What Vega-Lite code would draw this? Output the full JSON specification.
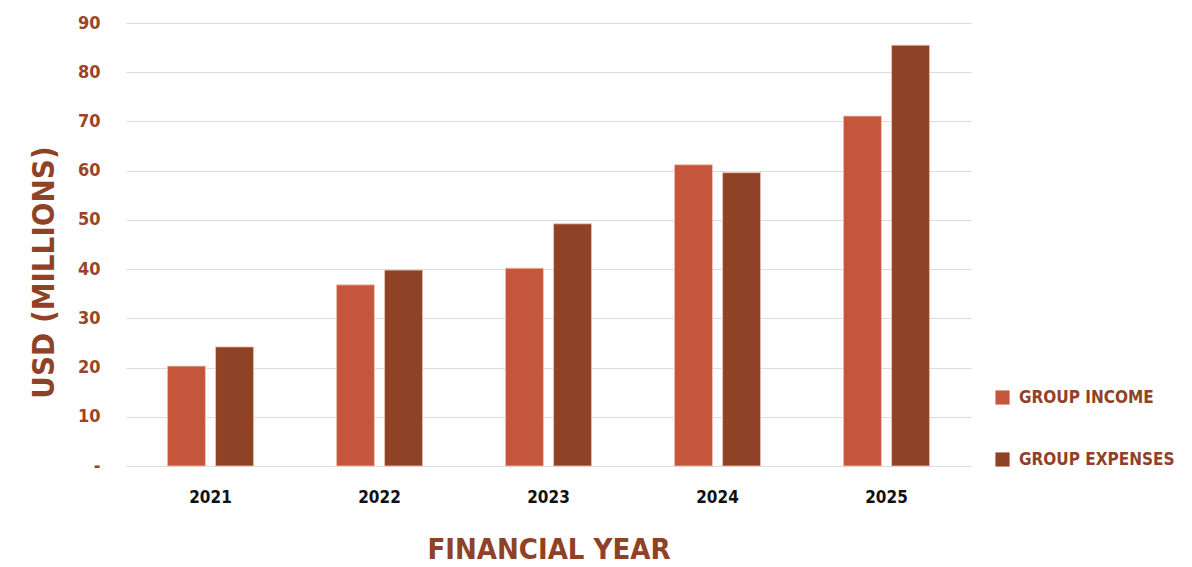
{
  "$schema": "https://vega.github.io/schema/vega-lite/v6.json",
  "width": 845,
  "height": 443,
  "autosize": "none",
  "padding": {"left": 126, "top": 23, "right": 221, "bottom": 101},
  "background": "white",
  "config": {
    "font": "DejaVu Sans Condensed, sans-serif",
    "view": {"stroke": null}
  },
  "data": {
    "values": [
      {"year": "2021", "series": "GROUP INCOME", "value": 20.3},
      {"year": "2021", "series": "GROUP EXPENSES", "value": 24.2},
      {"year": "2022", "series": "GROUP INCOME", "value": 36.8},
      {"year": "2022", "series": "GROUP EXPENSES", "value": 39.8},
      {"year": "2023", "series": "GROUP INCOME", "value": 40.2},
      {"year": "2023", "series": "GROUP EXPENSES", "value": 49.2},
      {"year": "2024", "series": "GROUP INCOME", "value": 61.2},
      {"year": "2024", "series": "GROUP EXPENSES", "value": 59.6},
      {"year": "2025", "series": "GROUP INCOME", "value": 71.1},
      {"year": "2025", "series": "GROUP EXPENSES", "value": 85.5}
    ]
  },
  "mark": {"type": "bar", "stroke": "#f0c8b8", "strokeWidth": 0.8},
  "encoding": {
    "x": {
      "field": "year",
      "type": "nominal",
      "scale": {"paddingInner": 0.49, "paddingOuter": 0.245},
      "axis": {
        "title": "FINANCIAL YEAR",
        "titleFontSize": 29,
        "titleFontWeight": "bold",
        "titleColor": "#8F4226",
        "titlePadding": 30,
        "labelAngle": 0,
        "labelFontSize": 17,
        "labelFontWeight": "bold",
        "labelColor": "#111111",
        "labelPadding": 23,
        "ticks": false,
        "domain": false
      }
    },
    "xOffset": {
      "field": "series",
      "type": "nominal",
      "sort": ["GROUP INCOME", "GROUP EXPENSES"],
      "scale": {"paddingInner": 0.21, "paddingOuter": 0}
    },
    "y": {
      "field": "value",
      "type": "quantitative",
      "scale": {"domain": [0, 90], "nice": false},
      "axis": {
        "title": "USD (MILLIONS)",
        "titleFontSize": 31,
        "titleFontWeight": "bold",
        "titleColor": "#8F4226",
        "titleX": -66,
        "titleY": 249,
        "titleAnchor": "middle",
        "values": [0, 10, 20, 30, 40, 50, 60, 70, 80, 90],
        "labelExpr": "datum.value == 0 ? '-' : datum.label",
        "labelFontSize": 18,
        "labelFontWeight": "bold",
        "labelColor": "#9A4528",
        "labelPadding": 26,
        "ticks": false,
        "domain": false,
        "gridColor": "#dcdcdc",
        "gridWidth": 1
      }
    },
    "color": {
      "field": "series",
      "type": "nominal",
      "sort": ["GROUP INCOME", "GROUP EXPENSES"],
      "scale": {"domain": ["GROUP INCOME", "GROUP EXPENSES"], "range": ["#C4573B", "#8F4226"]},
      "legend": {
        "title": null,
        "orient": "none",
        "legendX": 868,
        "legendY": 366,
        "symbolType": "square",
        "symbolSize": 200,
        "symbolStrokeWidth": 0,
        "labelFontSize": 17,
        "labelFontWeight": "bold",
        "labelColor": "#8F4226",
        "labelLimit": 400,
        "rowPadding": 44,
        "labelOffset": 8
      }
    }
  }
}
